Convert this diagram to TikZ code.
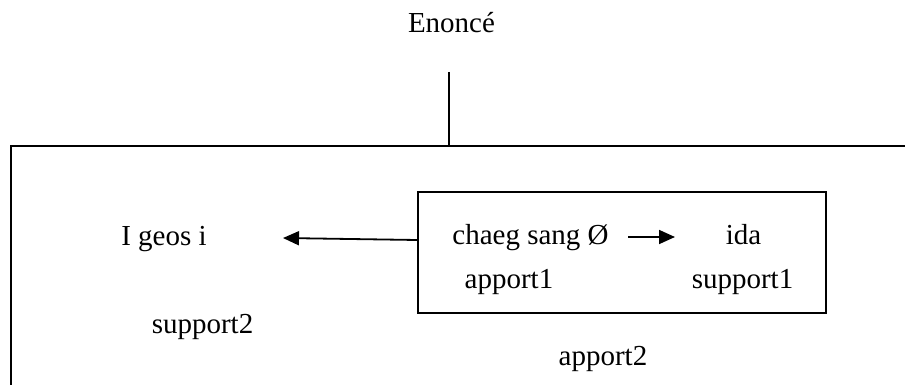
\documentclass[tikz,border=0pt]{standalone}
\usepackage{fontspec}
\setmainfont{Liberation Serif}
\usetikzlibrary{arrows.meta}
\begin{document}
\begin{tikzpicture}[x=0.5pt,y=-0.5pt, line width=0.9pt,
  lbl/.style={inner sep=0pt, anchor=base, font=\fontsize{14.5}{17}\selectfont},
  arr/.style={-{Triangle[length=8pt,width=7pt]}}]
\useasboundingbox (0,0) rectangle (905,385);
\node[lbl] (enonce) at (451.5,33) {Enoncé};
\coordinate (top) at (449,72);
\coordinate (junc) at (449,146);
\coordinate (bl) at (11,385);
\coordinate (tl) at (11,146);
\coordinate (tr) at (905,146);
\draw (top) -- (junc);
\draw (bl) -- (tl) -- (tr);
\node[draw, inner sep=0pt, minimum width=204pt, minimum height=60.5pt] (box) at (622,252.5) {};
\node[lbl] (igeos) at (164,245) {I geos i};
\node[lbl] (chaeg) at (530.5,244) {chaeg sang Ø};
\node[lbl] (ida) at (743.5,244) {ida};
\node[lbl] (apport1) at (509,288) {apport1};
\node[lbl] (support1) at (742.5,288) {support1};
\node[lbl] (support2) at (202.5,333) {support2};
\node[lbl] (apport2) at (603,365) {apport2};
\coordinate (tipL) at (283,238);
\draw[arr] ([yshift=6.25pt]box.west) -- (tipL);
\coordinate (r1) at (628,237);
\coordinate (r2) at (675,237);
\draw[arr] (r1) -- (r2);
\end{tikzpicture}
\end{document}
